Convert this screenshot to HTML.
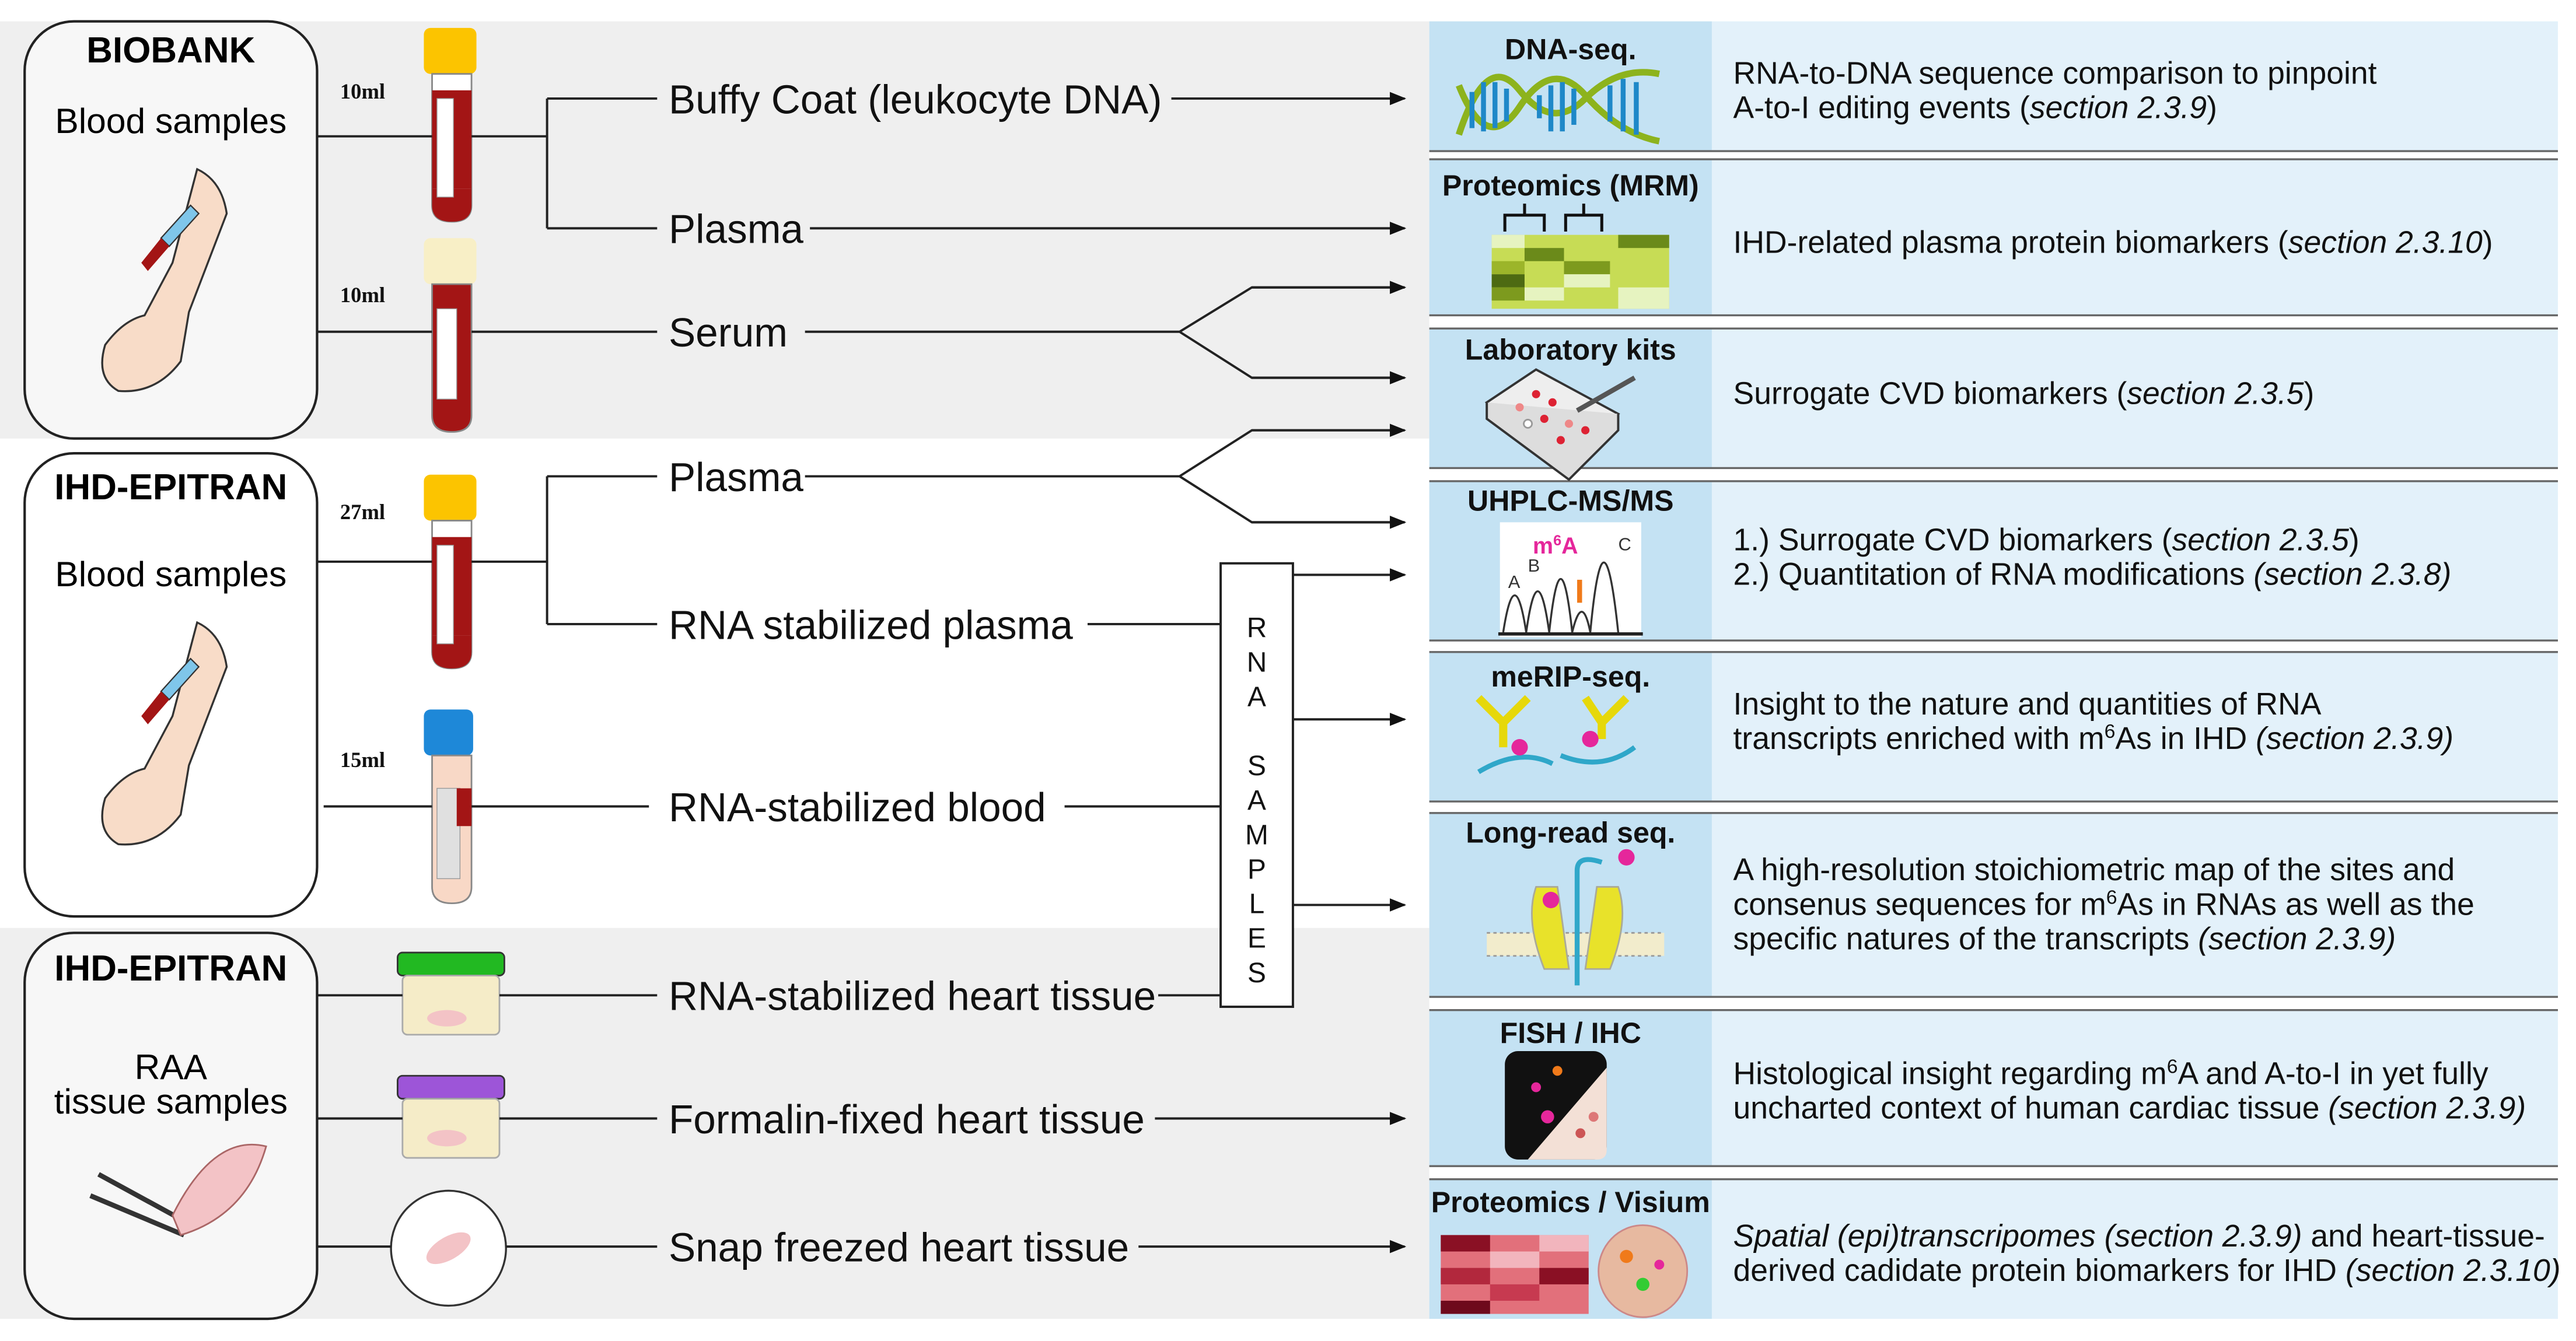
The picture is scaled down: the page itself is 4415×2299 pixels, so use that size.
<!DOCTYPE html>
<html><head><meta charset="utf-8"><style>
html,body{margin:0;padding:0;background:#fff}
svg{display:block}
text{font-family:"Liberation Sans",Arial,sans-serif}
.t{font-size:24.6px;fill:#111}
.d{font-size:19px;fill:#111}
.h{font-size:17.8px;font-weight:bold;fill:#111}
.ml{font-family:"Liberation Serif",serif;font-size:13px;font-weight:bold;fill:#111}
.ln{stroke:#222;stroke-width:1.4;fill:none}
</style></head><body>
<svg width="4415" height="2299" viewBox="0 0 1568 816.5" xmlns="http://www.w3.org/2000/svg">
<defs><marker id="a" markerWidth="10" markerHeight="10" refX="9" refY="5" orient="auto" markerUnits="userSpaceOnUse"><path d="M0,1 L10,5 L0,9 z" fill="#111"/></marker></defs>
<rect x="0" y="0" width="1568" height="817" fill="#fff"/>
<rect x="0" y="13" width="870" height="254" fill="#efefef"/>
<rect x="0" y="565" width="870" height="238" fill="#efefef"/>

<g>
<rect x="870" y="13" width="172" height="79" fill="#c4e2f3"/><rect x="1042" y="13" width="515" height="79" fill="#e3f1fa"/>
<rect x="870" y="97" width="172" height="95" fill="#c4e2f3"/><rect x="1042" y="97" width="515" height="95" fill="#e3f1fa"/>
<rect x="870" y="200" width="172" height="85" fill="#c4e2f3"/><rect x="1042" y="200" width="515" height="85" fill="#e3f1fa"/>
<rect x="870" y="293" width="172" height="97" fill="#c4e2f3"/><rect x="1042" y="293" width="515" height="97" fill="#e3f1fa"/>
<rect x="870" y="397" width="172" height="91" fill="#c4e2f3"/><rect x="1042" y="397" width="515" height="91" fill="#e3f1fa"/>
<rect x="870" y="495" width="172" height="112" fill="#c4e2f3"/><rect x="1042" y="495" width="515" height="112" fill="#e3f1fa"/>
<rect x="870" y="615" width="172" height="95" fill="#c4e2f3"/><rect x="1042" y="615" width="515" height="95" fill="#e3f1fa"/>
<rect x="870" y="718" width="172" height="85" fill="#c4e2f3"/><rect x="1042" y="718" width="515" height="85" fill="#e3f1fa"/>
<g stroke="#666" stroke-width="1.2">
<line x1="870" y1="92" x2="1557" y2="92"/><line x1="870" y1="97" x2="1557" y2="97"/>
<line x1="870" y1="192" x2="1557" y2="192"/><line x1="870" y1="200" x2="1557" y2="200"/>
<line x1="870" y1="285" x2="1557" y2="285"/><line x1="870" y1="293" x2="1557" y2="293"/>
<line x1="870" y1="390" x2="1557" y2="390"/><line x1="870" y1="397" x2="1557" y2="397"/>
<line x1="870" y1="488" x2="1557" y2="488"/><line x1="870" y1="495" x2="1557" y2="495"/>
<line x1="870" y1="607" x2="1557" y2="607"/><line x1="870" y1="615" x2="1557" y2="615"/>
<line x1="870" y1="710" x2="1557" y2="710"/><line x1="870" y1="718" x2="1557" y2="718"/>
</g>
</g>

<g class="h" text-anchor="middle">
<text x="956" y="36">DNA-seq.</text>
<text x="956" y="119">Proteomics (MRM)</text>
<text x="956" y="219">Laboratory kits</text>
<text x="956" y="311">UHPLC-MS/MS</text>
<text x="956" y="418">meRIP-seq.</text>
<text x="956" y="513">Long-read seq.</text>
<text x="956" y="635">FISH / IHC</text>
<text x="956" y="738">Proteomics / Visium</text>
</g>
<g class="d">
<text x="1055" y="51">RNA-to-DNA sequence comparison to pinpoint</text>
<text x="1055" y="72">A-to-I editing events (<tspan font-style="italic">section 2.3.9</tspan>)</text>
<text x="1055" y="154">IHD-related plasma protein biomarkers (<tspan font-style="italic">section 2.3.10</tspan>)</text>
<text x="1055" y="246">Surrogate CVD biomarkers (<tspan font-style="italic">section 2.3.5</tspan>)</text>
<text x="1055" y="335">1.) Surrogate CVD biomarkers (<tspan font-style="italic">section 2.3.5</tspan>)</text>
<text x="1055" y="356">2.) Quantitation of RNA modifications <tspan font-style="italic">(section 2.3.8)</tspan></text>
<text x="1055" y="435">Insight to the nature and quantities of RNA</text>
<text x="1055" y="456">transcripts enriched with m<tspan baseline-shift="super" font-size="12">6</tspan>As in IHD <tspan font-style="italic">(section 2.3.9)</tspan></text>
<text x="1055" y="536">A high-resolution stoichiometric map of the sites and</text>
<text x="1055" y="557">consenus sequences for m<tspan baseline-shift="super" font-size="12">6</tspan>As in RNAs as well as the</text>
<text x="1055" y="578">specific natures of the transcripts <tspan font-style="italic">(section 2.3.9)</tspan></text>
<text x="1055" y="660">Histological insight regarding m<tspan baseline-shift="super" font-size="12">6</tspan>A and A-to-I in yet fully</text>
<text x="1055" y="681">uncharted context of human cardiac tissue <tspan font-style="italic">(section 2.3.9)</tspan></text>
<text x="1055" y="759"><tspan font-style="italic">Spatial (epi)transcripomes (section 2.3.9)</tspan> and heart-tissue-</text>
<text x="1055" y="780">derived cadidate protein biomarkers for IHD <tspan font-style="italic">(section 2.3.10)</tspan></text>
</g>

<g>
<g stroke-width="4" fill="none">
<path d="M888,82 Q905,30 925,55 T965,60 T1010,45" stroke="#8db31d"/>
<path d="M888,52 Q905,95 925,65 T965,58 T1010,86" stroke="#8db31d"/>
</g>
<g stroke="#1e88c8" stroke-width="3">
<line x1="896" y1="56" x2="896" y2="78"/><line x1="903" y1="50" x2="903" y2="80"/><line x1="910" y1="50" x2="910" y2="78"/><line x1="917" y1="54" x2="917" y2="74"/>
<line x1="937" y1="58" x2="937" y2="72"/><line x1="944" y1="52" x2="944" y2="80"/><line x1="951" y1="50" x2="951" y2="80"/><line x1="958" y1="54" x2="958" y2="76"/>
<line x1="980" y1="52" x2="980" y2="74"/><line x1="988" y1="48" x2="988" y2="80"/><line x1="996" y1="50" x2="996" y2="82"/>
</g>
<g>
<path d="M916,141 V131 H940 V141 M928,131 V124 M953,141 V131 H975 V141 M964,131 V124" stroke="#111" stroke-width="1.8" fill="none"/>
<rect x="908" y="143" width="108" height="45" fill="#c7dc55"/>
<rect x="908" y="143" width="20" height="8" fill="#e6f3c0"/><rect x="928" y="151" width="24" height="8" fill="#6b8a1a"/>
<rect x="908" y="159" width="20" height="8" fill="#9cb52a"/><rect x="908" y="167" width="20" height="8" fill="#4d6a12"/>
<rect x="952" y="159" width="28" height="8" fill="#7d9a1e"/><rect x="985" y="143" width="31" height="8" fill="#6b8a1a"/>
<rect x="928" y="175" width="24" height="8" fill="#e6f3c0"/><rect x="985" y="175" width="31" height="13" fill="#e6f3c0"/>
<rect x="952" y="167" width="28" height="8" fill="#e6f3c0"/><rect x="908" y="175" width="20" height="8" fill="#7d9a1e"/>
</g>
<g>
<path d="M905,245 L935,225 L985,252 L955,282 Z" fill="#eee" stroke="#333" stroke-width="1.4"/>
<path d="M905,245 L905,255 L955,292 L985,262 L985,252" fill="#ddd" stroke="#333" stroke-width="1.4"/>
<circle cx="935" cy="240" r="2.5" fill="#d23"/><circle cx="945" cy="245" r="2.5" fill="#d23"/><circle cx="925" cy="248" r="2.5" fill="#e88"/>
<circle cx="940" cy="255" r="2.5" fill="#d23"/><circle cx="955" cy="258" r="2.5" fill="#e88"/><circle cx="950" cy="268" r="2.5" fill="#d23"/>
<circle cx="965" cy="262" r="2.5" fill="#d23"/><circle cx="930" cy="258" r="2.5" fill="#fff" stroke="#999"/>
<line x1="960" y1="250" x2="995" y2="230" stroke="#555" stroke-width="3"/>
</g>
<g>
<rect x="913" y="318" width="86" height="70" fill="#fff"/>
<path d="M915,385 Q922,340 929,385 Q936,335 943,385 Q950,320 957,385 Q963,360 968,385 Q976,300 985,385" stroke="#333" fill="none" stroke-width="1.2"/>
<line x1="912" y1="386" x2="1000" y2="386" stroke="#222" stroke-width="2"/>
<text x="933" y="337" font-size="14" font-weight="bold" fill="#e5279b">m<tspan font-size="9" baseline-shift="super">6</tspan>A</text>
<text x="918" y="358" font-size="11" fill="#333">A</text><text x="930" y="348" font-size="11" fill="#333">B</text><text x="985" y="335" font-size="11" fill="#333">C</text>
<rect x="960" y="353" width="3" height="14" fill="#f07a1a"/>
</g>
<g stroke-width="5" fill="none" stroke="#e6d80a">
<path d="M900,425 L915,440 L915,455 M930,425 L915,440"/>
<path d="M990,425 L975,440 L975,450 M965,425 L975,440"/>
</g>
<path d="M900,470 Q925,455 945,465 M950,460 Q975,470 995,455" stroke="#2fa7c9" stroke-width="3" fill="none"/>
<circle cx="925" cy="455" r="5" fill="#e5279b"/><circle cx="968" cy="450" r="5" fill="#e5279b"/>
<g>
<rect x="905" y="568" width="108" height="14" fill="#f2eccc"/>
<line x1="905" y1="568" x2="1013" y2="568" stroke="#999" stroke-dasharray="2 2"/>
<line x1="905" y1="582" x2="1013" y2="582" stroke="#999" stroke-dasharray="2 2"/>
<path d="M935,540 Q928,560 940,590 L955,590 L948,540 Z" fill="#e8e22a" stroke="#aa9" />
<path d="M985,540 Q992,560 980,590 L965,590 L972,540 Z" fill="#e8e22a" stroke="#aa9"/>
<path d="M960,600 V530 Q960,520 975,525" stroke="#2fa7c9" stroke-width="3" fill="none"/>
<circle cx="944" cy="548" r="5" fill="#e5279b"/><circle cx="990" cy="522" r="5" fill="#e5279b"/>
</g>
<g>
<rect x="916" y="640" width="62" height="66" rx="8" fill="#111"/>
<path d="M978,650 L978,700 Q978,706 972,706 L930,706 Z" fill="#f3e0d6"/>
<circle cx="935" cy="662" r="3" fill="#e5279b"/><circle cx="948" cy="652" r="3" fill="#f07a1a"/><circle cx="942" cy="680" r="4" fill="#e5279b"/>
<circle cx="962" cy="690" r="3" fill="#c55"/><circle cx="970" cy="680" r="3" fill="#d77"/>
</g>
<g>
<rect x="877" y="752" width="90" height="48" fill="#e2707b"/>
<rect x="877" y="752" width="30" height="10" fill="#8a1024"/><rect x="907" y="762" width="30" height="10" fill="#f2b5bd"/>
<rect x="877" y="772" width="30" height="10" fill="#b2283d"/><rect x="937" y="772" width="30" height="10" fill="#8a1024"/>
<rect x="907" y="782" width="30" height="10" fill="#c73a50"/><rect x="877" y="792" width="30" height="8" fill="#6e0a1c"/>
<rect x="937" y="752" width="30" height="10" fill="#f2b5bd"/>
<ellipse cx="1000" cy="774" rx="27" ry="28" fill="#e7b9a0" stroke="#c88" />
<circle cx="990" cy="765" r="4" fill="#f07a1a"/><circle cx="1000" cy="782" r="4" fill="#3c3"/><circle cx="1010" cy="770" r="3" fill="#e5279b"/>
</g>
</g>

<rect x="15" y="13" width="178" height="254" rx="30" fill="#f7f7f7" stroke="#222" stroke-width="1.5"/>
<rect x="15" y="276" width="178" height="282" rx="30" fill="#fff" stroke="#222" stroke-width="1.5"/>
<rect x="15" y="568" width="178" height="235" rx="30" fill="#f7f7f7" stroke="#222" stroke-width="1.5"/>
<text x="104" y="38" text-anchor="middle" font-size="22" font-weight="bold">BIOBANK</text>
<text x="104" y="81" text-anchor="middle" font-size="21.5">Blood samples</text>
<text x="104" y="304" text-anchor="middle" font-size="22" font-weight="bold">IHD-EPITRAN</text>
<text x="104" y="357" text-anchor="middle" font-size="21.5">Blood samples</text>
<text x="104" y="597" text-anchor="middle" font-size="22" font-weight="bold">IHD-EPITRAN</text>
<text x="104" y="657" text-anchor="middle" font-size="21.5">RAA</text>
<text x="104" y="678" text-anchor="middle" font-size="21.5">tissue samples</text>

<g id="arm">
<path d="M120,103 Q135,110 138,130 L115,190 L110,220 Q95,240 72,238 Q58,230 64,210 Q75,195 88,192 L105,160 Z" fill="#f8dcc8" stroke="#333" stroke-width="1.2"/>
<path d="M98,145 L116,125 L121,130 L103,150 Z" fill="#7fc6ea" stroke="#333" stroke-width="0.8"/>
<path d="M86,160 L98,145 L103,150 L90,165 Z" fill="#a31515"/>
</g>
<use href="#arm" transform="translate(0,276)"/>
<path d="M60,715 L115,745 M55,728 L112,752" stroke="#333" stroke-width="3" fill="none"/>
<path d="M105,740 Q130,690 162,698 Q150,740 110,752 Z" fill="#f3c3c6" stroke="#a66"/>

<g id="tube">
<rect x="258" y="17" width="32" height="28" rx="4" fill="#fcc400"/>
<path d="M263,45 H287 V125 Q287,135 275,135 Q263,135 263,125 Z" fill="#fff" stroke="#888"/>
<rect x="263" y="55" width="24" height="60" fill="#a31515"/>
<path d="M263,115 H287 V125 Q287,135 275,135 Q263,135 263,125 Z" fill="#a31515"/>
<rect x="266" y="60" width="10" height="60" fill="#fff" stroke="#999" stroke-width="0.5"/>
</g>
<g transform="translate(0,128)">
<rect x="258" y="17" width="32" height="28" rx="4" fill="#f8efc6"/>
<path d="M263,45 H287 V125 Q287,135 275,135 Q263,135 263,125 Z" fill="#a31515" stroke="#888"/>
<rect x="266" y="60" width="12" height="55" fill="#fff" stroke="#999" stroke-width="0.5"/>
</g>
<use href="#tube" transform="translate(0,272)"/>
<g transform="translate(0,415)">
<rect x="258" y="17" width="30" height="28" rx="4" fill="#1e88d8"/>
<path d="M263,45 H287 V125 Q287,135 275,135 Q263,135 263,125 Z" fill="#f8d8c6" stroke="#888"/>
<rect x="266" y="65" width="14" height="55" fill="#e0e0e0" stroke="#999" stroke-width="0.5"/>
<path d="M278,65 H287 V88 H278 Z" fill="#a31515"/>
</g>
<text x="207" y="60" class="ml">10ml</text>
<text x="207" y="184" class="ml">10ml</text>
<text x="207" y="316" class="ml">27ml</text>
<text x="207" y="467" class="ml">15ml</text>

<g>
<rect x="242" y="580" width="65" height="14" rx="3" fill="#22b922" stroke="#333"/>
<rect x="245" y="594" width="59" height="36" rx="3" fill="#f5ecc8" stroke="#aaa"/>
<ellipse cx="272" cy="620" rx="12" ry="5" fill="#f3c3c6"/>
<rect x="242" y="655" width="65" height="14" rx="3" fill="#9d55d8" stroke="#333"/>
<rect x="245" y="669" width="59" height="36" rx="3" fill="#f5ecc8" stroke="#aaa"/>
<ellipse cx="272" cy="693" rx="12" ry="5" fill="#f3c3c6"/>
<circle cx="273" cy="760" r="35" fill="#fff" stroke="#333" stroke-width="1.2"/>
<ellipse cx="273" cy="760" rx="15" ry="7" fill="#f3c3c6" transform="rotate(-30 273 760)"/>
</g>

<g class="ln">
<path d="M193,83 H263 M287,83 H333 M333,60 V139 M333,60 H400 M333,139 H400"/>
<path d="M193,202 H263 M287,202 H400"/>
<path d="M193,342 H263 M287,342 H333 M333,290 V380 M333,290 H400 M333,380 H400"/>
<path d="M197,491 H263 M287,491 H395"/>
<path d="M193,606 H245 M304,606 H400 M193,681 H245 M304,681 H400 M193,759 H238 M308,759 H400"/>
<path d="M490,202 H718 L762,175 H855 M718,202 L762,230 H855"/>
<path d="M490,290 H718 L762,262 H855 M718,290 L762,318 H855"/>
<path d="M662,380 H743 M648,491 H743 M705,606 H743"/>
</g>
<g class="ln" marker-end="url(#a)">
<path d="M713,60 H855"/><path d="M493,139 H855"/>
<path d="M762,175 H855"/><path d="M762,230 H855"/><path d="M762,262 H855"/><path d="M762,318 H855"/>
<path d="M787,350 H855"/><path d="M787,438 H855"/><path d="M787,551 H855"/>
<path d="M703,681 H855"/><path d="M693,759 H855"/>
</g>
<rect x="743" y="343" width="44" height="270" fill="#fff" stroke="#222" stroke-width="1.4"/>
<g font-size="17" text-anchor="middle" fill="#111">
<text x="765" y="388">R</text><text x="765" y="409">N</text><text x="765" y="430">A</text>
<text x="765" y="472">S</text><text x="765" y="493">A</text><text x="765" y="514">M</text><text x="765" y="535">P</text><text x="765" y="556">L</text><text x="765" y="577">E</text><text x="765" y="598">S</text>
</g>

<g class="t">
<text x="407" y="69">Buffy Coat (leukocyte DNA)</text>
<text x="407" y="148">Plasma</text>
<text x="407" y="211">Serum</text>
<text x="407" y="299">Plasma</text>
<text x="407" y="389">RNA stabilized plasma</text>
<text x="407" y="500">RNA-stabilized blood</text>
<text x="407" y="615">RNA-stabilized heart tissue</text>
<text x="407" y="690">Formalin-fixed heart tissue</text>
<text x="407" y="768">Snap freezed heart tissue</text>
</g>
</svg>
</body></html>
